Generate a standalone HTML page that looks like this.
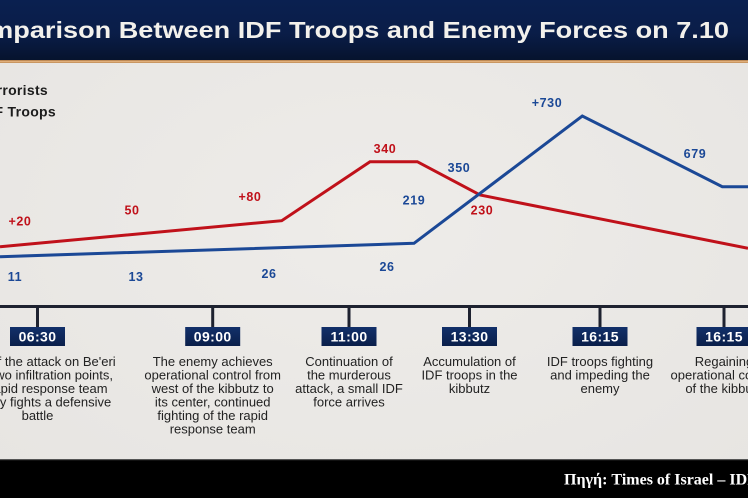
<!DOCTYPE html>
<html>
<head>
<meta charset="utf-8">
<style>
html,body{margin:0;padding:0;width:748px;height:498px;overflow:hidden;background:#ebe9e6;}
svg{display:block;}
</style>
</head>
<body>
<svg width="748" height="498" viewBox="0 0 748 498" xmlns="http://www.w3.org/2000/svg">
<defs>
<linearGradient id="hdr" x1="0" y1="0" x2="0" y2="1">
<stop offset="0" stop-color="#0a2050"/>
<stop offset="0.55" stop-color="#0a1d48"/>
<stop offset="1" stop-color="#06132e"/>
</linearGradient>
<linearGradient id="gold" x1="0" y1="0" x2="0" y2="1">
<stop offset="0" stop-color="#a8733f"/>
<stop offset="0.5" stop-color="#e9b985"/>
<stop offset="1" stop-color="#b9844f"/>
</linearGradient>
<linearGradient id="box" x1="0" y1="0" x2="0" y2="1">
<stop offset="0" stop-color="#12306a"/>
<stop offset="1" stop-color="#0a1f4a"/>
</linearGradient>
<radialGradient id="bg" cx="0.5" cy="0.45" r="0.7">
<stop offset="0" stop-color="#eeece9"/>
<stop offset="1" stop-color="#e7e5e2"/>
</radialGradient>
</defs>

<!-- background -->
<rect x="0" y="0" width="748" height="498" fill="url(#bg)"/>

<!-- header -->
<rect x="0" y="0" width="748" height="60" fill="url(#hdr)"/>
<rect x="0" y="60" width="748" height="3" fill="url(#gold)"/>
<text x="-47" y="38" textLength="776" lengthAdjust="spacingAndGlyphs" font-family="Liberation Sans, sans-serif" font-weight="bold" font-size="23.5" fill="#f3f1ec">Comparison Between IDF Troops and Enemy Forces on 7.10</text>

<!-- legend -->
<g font-family="Liberation Sans, sans-serif" font-weight="bold" font-size="14" fill="#1c1c1c" text-anchor="end" letter-spacing="0.3">
<text x="48" y="95">Terrorists</text>
<text x="56" y="116.5">IDF Troops</text>
</g>

<!-- series lines -->
<polyline points="0,246.7 281.7,220.7 370,161.7 417.3,161.7 480,195 748,248.3" fill="none" stroke="#c0111a" stroke-width="3" stroke-linejoin="miter"/>
<polyline points="0,256.7 414,243.3 582.3,116 722.3,186.7 748,186.7" fill="none" stroke="#1b4896" stroke-width="3" stroke-linejoin="miter"/>

<!-- red labels -->
<g font-family="Liberation Sans, sans-serif" font-weight="bold" font-size="12.5" fill="#c0111a" text-anchor="middle" letter-spacing="0.6">
<text x="20" y="225.5">+20</text>
<text x="132" y="214.5">50</text>
<text x="250" y="201">+80</text>
<text x="385" y="153">340</text>
<text x="482" y="214.5">230</text>
</g>
<!-- blue labels -->
<g font-family="Liberation Sans, sans-serif" font-weight="bold" font-size="12.5" fill="#1b4896" text-anchor="middle" letter-spacing="0.6">
<text x="15" y="281">11</text>
<text x="136" y="281">13</text>
<text x="269" y="278">26</text>
<text x="387" y="271">26</text>
<text x="414" y="204.5">219</text>
<text x="459" y="172">350</text>
<text x="547" y="107">+730</text>
<text x="695" y="158">679</text>
</g>

<!-- timeline -->
<line x1="0" y1="306.5" x2="748" y2="306.5" stroke="#1e2230" stroke-width="3"/>
<g stroke="#1e2230" stroke-width="3">
<line x1="37.5" y1="306" x2="37.5" y2="328"/>
<line x1="212.7" y1="306" x2="212.7" y2="328"/>
<line x1="349" y1="306" x2="349" y2="328"/>
<line x1="469.5" y1="306" x2="469.5" y2="328"/>
<line x1="600" y1="306" x2="600" y2="328"/>
<line x1="724" y1="306" x2="724" y2="328"/>
</g>
<g fill="url(#box)">
<rect x="10" y="327" width="55" height="19"/>
<rect x="185.2" y="327" width="55" height="19"/>
<rect x="321.5" y="327" width="55" height="19"/>
<rect x="442" y="327" width="55" height="19"/>
<rect x="572.5" y="327" width="55" height="19"/>
<rect x="696.5" y="327" width="55" height="19"/>
</g>
<g font-family="Liberation Sans, sans-serif" font-weight="bold" font-size="14" fill="#ffffff" text-anchor="middle" letter-spacing="0.4">
<text x="37.5" y="341.5">06:30</text>
<text x="212.7" y="341.5">09:00</text>
<text x="349" y="341.5">11:00</text>
<text x="469.5" y="341.5">13:30</text>
<text x="600" y="341.5">16:15</text>
<text x="724" y="341.5">16:15</text>
</g>

<!-- descriptions -->
<g font-family="Liberation Sans, sans-serif" font-size="13" fill="#222222" text-anchor="middle">
<text x="37.5" y="366">Start of the attack on Be'eri</text>
<text x="37.5" y="379.5">from two infiltration points,</text>
<text x="37.5" y="393">the rapid response team</text>
<text x="37.5" y="406.5">already fights a defensive</text>
<text x="37.5" y="420">battle</text>

<text x="212.7" y="366">The enemy achieves</text>
<text x="212.7" y="379.5">operational control from</text>
<text x="212.7" y="393">west of the kibbutz to</text>
<text x="212.7" y="406.5">its center, continued</text>
<text x="212.7" y="420">fighting of the rapid</text>
<text x="212.7" y="433.5">response team</text>

<text x="349" y="366">Continuation of</text>
<text x="349" y="379.5">the murderous</text>
<text x="349" y="393">attack, a small IDF</text>
<text x="349" y="406.5">force arrives</text>

<text x="469.5" y="366">Accumulation of</text>
<text x="469.5" y="379.5">IDF troops in the</text>
<text x="469.5" y="393">kibbutz</text>

<text x="600" y="366">IDF troops fighting</text>
<text x="600" y="379.5">and impeding the</text>
<text x="600" y="393">enemy</text>

<text x="724" y="366">Regaining</text>
<text x="724" y="379.5">operational control</text>
<text x="724" y="393">of the kibbutz</text>
</g>

<!-- footer -->
<rect x="0" y="459" width="748" height="39" fill="#000000"/>
<rect x="0" y="459" width="748" height="1.2" fill="#555555"/>
<text x="564" y="484.5" font-family="Liberation Serif, serif" font-weight="bold" font-size="16" fill="#ffffff">Πηγή: Times of Israel – IDF</text>
</svg>
</body>
</html>
